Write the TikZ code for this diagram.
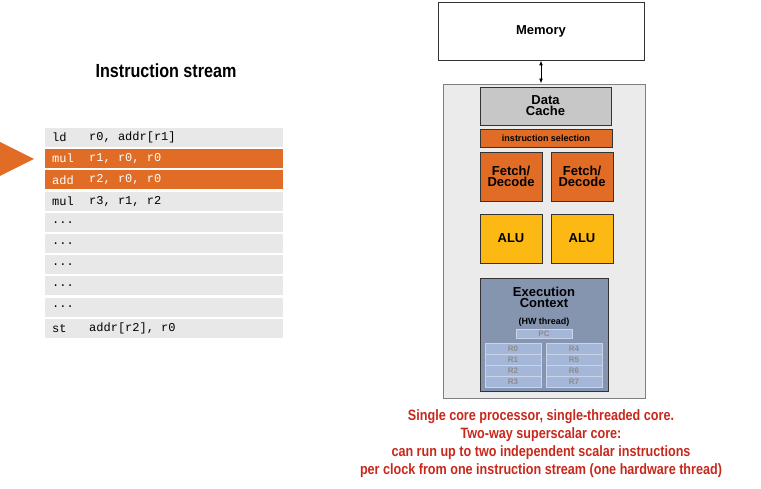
\documentclass[tikz,border=0pt]{standalone}
\usepackage{fontspec}
\setmainfont{Liberation Sans}
\setmonofont{Liberation Mono}
\usetikzlibrary{arrows.meta}
\definecolor{orng}{HTML}{E06C25}
\definecolor{yel}{HTML}{FDB913}
\definecolor{ctx}{HTML}{8595B0}
\definecolor{reg}{HTML}{A5B7D8}
\definecolor{rowg}{HTML}{E8E8E8}
\definecolor{redt}{HTML}{C8281C}
\def\mydts{...}
\tikzset{
  unit/.style={draw=black!80,line width=0.8pt,font=\bfseries\fontsize{13}{14}\selectfont,align=center},
  rowbox/.style={fill=rowg,draw=none},
  hlrow/.style={fill=orng,draw=none},
  code/.style={anchor=west,font=\ttfamily\fontsize{12}{12}\selectfont,inner sep=0pt},
  regbox/.style={draw=reg!60!white,fill=reg,line width=0.6pt,font=\bfseries\fontsize{8}{9}\selectfont,text=black!45},
  caption/.style={text=redt,font=\bfseries\fontsize{15}{18}\selectfont,align=center}
}
\begin{document}
\begin{tikzpicture}[x=1pt,y=-1pt]
\useasboundingbox (0,0) rectangle (761,489);
\node (title) at (166,71) {\scalebox{0.85}[1]{\bfseries\fontsize{19}{20}\selectfont Instruction stream}};
\foreach \i/\op/\args/\s/\c in {0/ld/{r0, addr[r1]}/rowbox/black,1/mul/{r1, r0, r0}/hlrow/white,2/add/{r2, r0, r0}/hlrow/white,3/mul/{r3, r1, r2}/rowbox/black,4/\mydts/{}/rowbox/black,5/\mydts/{}/rowbox/black,6/\mydts/{}/rowbox/black,7/\mydts/{}/rowbox/black,8/\mydts/{}/rowbox/black,9/st/{addr[r2], r0}/rowbox/black}{
  \pgfmathsetmacro\yt{128+21.2*\i}
  \fill[\s] (45,\yt) rectangle (283,\yt+19);
  \node[code,text=\c] (op\i) at (52,\yt+9.5) {\op};
  \node[code,text=\c] (ar\i) at (89,\yt+9.5) {\args};
}
\fill[orng] (0,142) -- (34,159) -- (0,176) -- cycle;
\node[draw=black!80,line width=0.8pt,minimum width=206,minimum height=58,font=\bfseries\fontsize{13}{14}\selectfont] (mem) at (541,31) {Memory};
\node[draw=black!50,fill=black!8,line width=0.8pt,minimum width=202,minimum height=314] (core) at (544,241) {};
\draw[{Latex[length=5pt]}-{Latex[length=5pt]},line width=0.8pt] (mem.south) -- (core.north -| mem.south);
\node[unit,fill=black!22,minimum width=131,minimum height=38] (dc) at (545.5,106) {Data\\[-3pt]Cache};
\node[unit,fill=orng,minimum width=132,minimum height=18,font=\bfseries\fontsize{9}{10}\selectfont] (sel) at (546,138) {instruction selection};
\node[unit,fill=orng,minimum width=62,minimum height=49] (fd1) at (511,176.5) {Fetch/\\[-3pt]Decode};
\node[unit,fill=orng,minimum width=62,minimum height=49] (fd2) at (582,176.5) {Fetch/\\[-3pt]Decode};
\node[unit,fill=yel,minimum width=62,minimum height=49] (alu1) at (511,238.5) {ALU};
\node[unit,fill=yel,minimum width=62,minimum height=49] (alu2) at (582,238.5) {ALU};
\node[unit,fill=ctx,minimum width=128,minimum height=113] (ec) at (544,334.5) {};
\node[font=\bfseries\fontsize{13}{14}\selectfont,align=center] (ect) at (544,297) {Execution\\[-3pt]Context};
\node[font=\bfseries\fontsize{9}{10}\selectfont] (hw) at (544,322) {(HW thread)};
\node[regbox,minimum width=56,minimum height=9,inner sep=0pt] (pc) at (544,334) {PC};
\foreach \n [count=\k from 0] in {R0,R1,R2,R3}{
  \node[regbox,minimum width=56,minimum height=11,inner sep=0pt] (l\k) at (513,348.5+11*\k) {\n};}
\foreach \n [count=\k from 0] in {R4,R5,R6,R7}{
  \node[regbox,minimum width=56,minimum height=11,inner sep=0pt] (r\k) at (574,348.5+11*\k) {\n};}
\node[caption] (cap) at (541,444) {\scalebox{0.84}[1]{\parbox{520pt}{\centering Single core processor, single-threaded core.\\ Two-way superscalar core:\\ can run up to two independent scalar instructions\\ per clock from one instruction stream (one hardware thread)}}};
\end{tikzpicture}
\end{document}
